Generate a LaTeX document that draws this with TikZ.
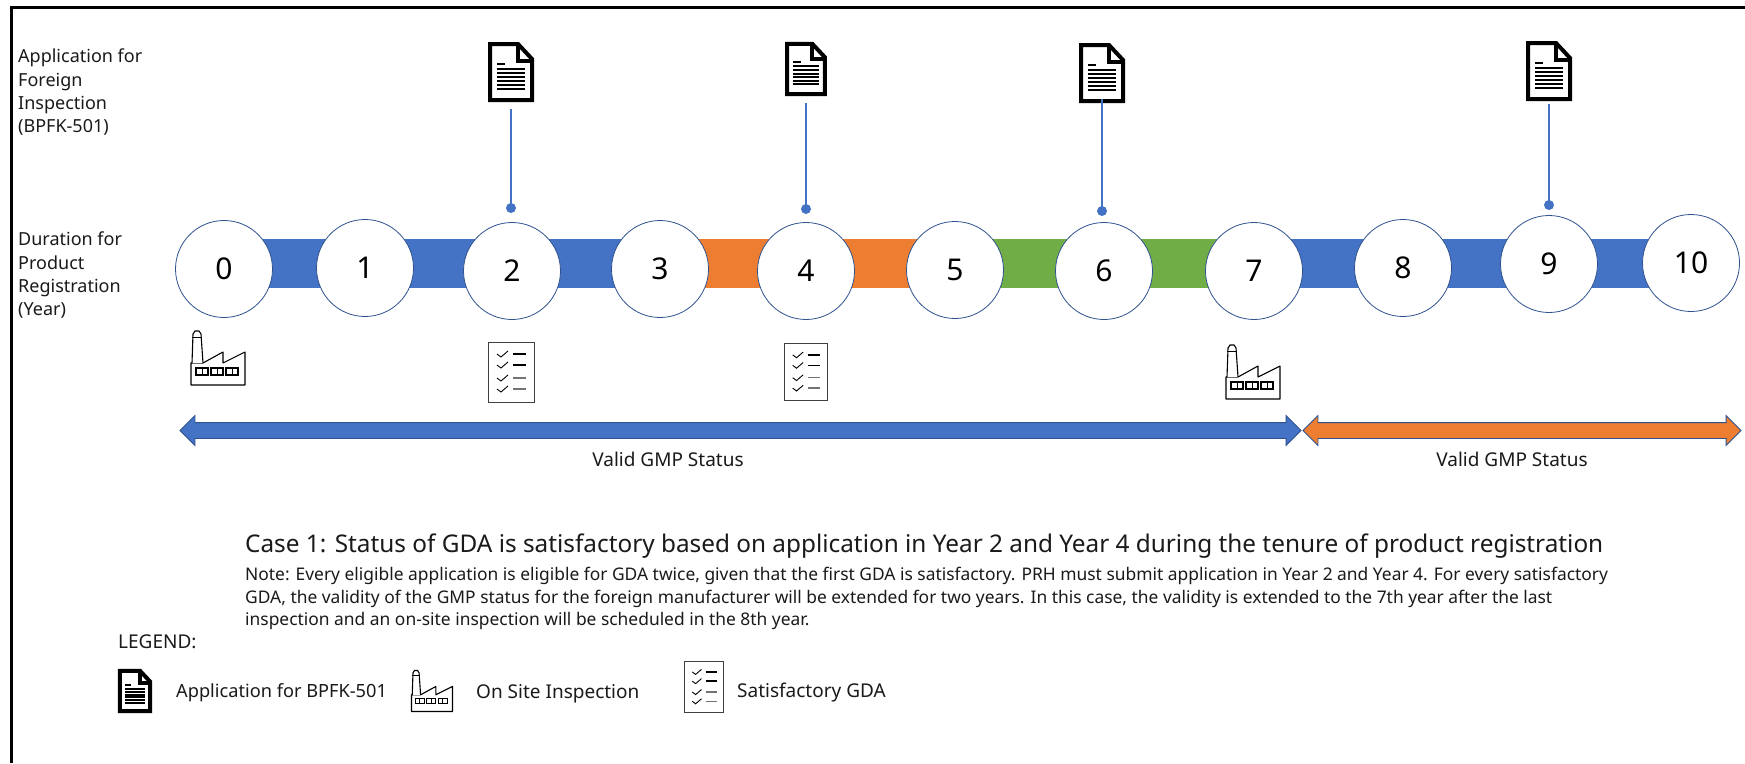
\documentclass[tikz,border=0pt]{standalone}
\usepackage{fontspec}
\setmainfont{Noto Sans}
\usetikzlibrary{shapes.arrows,backgrounds}
\definecolor{barblue}{HTML}{4472C4}
\definecolor{barorange}{HTML}{ED7D31}
\definecolor{bargreen}{HTML}{70AD47}
\definecolor{ringc}{HTML}{2F528F}
\definecolor{txt}{HTML}{1A1A1A}
\tikzset{
  x=1pt,y=-1pt,
  yearc/.style={circle,draw=ringc,line width=0.8pt,fill=white,minimum size=97pt,inner sep=0pt,font=\fontsize{30}{30}\selectfont,text=black},
  barseg/.style={line width=49pt},
  stem/.style={draw=barblue,line width=1.3pt},
  dotn/.style={circle,fill=barblue,minimum size=10pt,inner sep=0pt},
  iconbox/.style={inner sep=0pt,minimum width=46pt,minimum height=60pt},
  lbl/.style={inner sep=0pt,anchor=north west,align=left,text=txt,font=\fontsize{18}{23.3}\selectfont},
  small/.style={inner sep=0pt,text=txt,font=\fontsize{19}{22}\selectfont},
  dblarrow/.style={double arrow,draw=ringc,line width=0.8pt,minimum height=#1,minimum width=29pt,double arrow head extend=7pt,inner xsep=0pt,inner ysep=7.5pt,anchor=center},
  pics/docicon/.style={code={
    \draw[line width=4pt,fill=white,line join=miter] (-21,-28)--(7,-28)--(21,-13)--(21,28)--(-21,28)--cycle;
    \draw[line width=4pt] (7,-28)--(7,-11)--(21,-11);
    \draw[line width=1.6pt] (-14,-8)--(-6,-8);
    \foreach \yy in {-3,1,5,9,13,17}{\draw[line width=2pt] (-14,\yy)--(14,\yy);}
  }},
  pics/factoryicon/.style={code={
    \draw[line width=1.1pt,line join=round,fill=white] (-27,5)--(-27,27)--(27,27)--(27,-6)--(5,5)--(5,-6)--(-15,5)--cycle;
    \draw[line width=1.1pt,fill=white] (-26,5)--(-25,-24)--(-23,-27)--(-19,-27)--(-17,-24)--(-15,5);
    \draw[line width=0.7pt] (-26,-21)--(-16,-21);
    \foreach \xx in {-22,-7,8}{
      \draw[line width=1.1pt] (\xx,10) rectangle ++(12,7);
      \draw[line width=0.8pt] (\xx+6,10)--(\xx+6,17);}
  }},
  pics/checkicon/.style={code={
    \draw[line width=1pt,draw=black!75,fill=white] (-23,-30) rectangle (23,30);
    \foreach \yy/\cc in {-18/black,-7/black,6/black!55,17/black!55}{
      \draw[line width=0.9pt] (-14,\yy)--(-10,\yy+3)--(-3,\yy-3);
      \draw[line width=1.4pt,draw=\cc] (2,\yy)--(15,\yy);}
  }}
}
\begin{document}
\begin{tikzpicture}
\useasboundingbox (0,0) rectangle (1745,763);
\draw[line width=3pt,line cap=butt] (11,763)--(11,7)--(1745,7);
\coordinate (barmid) at (0,263.5);
% year circles
\path (224,269) node[yearc] (c0) {0}
      (365,268) node[yearc] (c1) {1}
      (512,271) node[yearc] (c2) {2}
      (660,269) node[yearc] (c3) {3}
      (806,271) node[yearc] (c4) {4}
      (955,270) node[yearc] (c5) {5}
      (1104,271) node[yearc] (c6) {6}
      (1254,271) node[yearc] (c7) {7}
      (1403,268) node[yearc] (c8) {8}
      (1549,264) node[yearc] (c9) {9}
      (1691,263) node[yearc] (c10) {10};
% bars behind the circles
\begin{scope}[on background layer]
\fill[white] (0,0) rectangle (1745,763);
\draw[barseg,barblue] (c0.center |- barmid)--(c3.center |- barmid);
\draw[barseg,barorange] (c3.center |- barmid)--(c5.center |- barmid);
\draw[barseg,bargreen] (c5.center |- barmid)--(c7.center |- barmid);
\draw[barseg,barblue] (c7.center |- barmid)--(c10.center |- barmid);
\end{scope}
% application icons
\node[iconbox] (d1) at (511,72) {}; \pic at (d1) {docicon};
\node[iconbox,minimum height=54pt] (d2) at (806,69) {}; \pic[scale=0.9] at (d2) {docicon};
\node[iconbox,minimum height=52pt] (d3) at (1102,73) {}; \pic at (d3) {docicon};
\node[iconbox,minimum height=52pt] (d4) at (1549,71) {}; \pic at (d4) {docicon};
\node[dotn] (p1) at (511,208) {};
\node[dotn] (p2) at (806,209) {};
\node[dotn] (p3) at (1102,211) {};
\node[dotn] (p4) at (1549,205) {};
\draw[stem,shorten <=7pt] (d1.south)--(p1.center);
\draw[stem,shorten <=7pt] (d2.south)--(p2.center);
\draw[stem] (d3.south)--(p3.center);
\draw[stem,shorten <=7pt] (d4.south)--(p4.center);
% inspection / GDA icons
\pic at (218,358) {factoryicon};
\pic at (1253,372) {factoryicon};
\pic at (511,372) {checkicon};
\pic[scale=0.95] at (806,372) {checkicon};
% validity arrows
\node[dblarrow=1121pt,fill=barblue] (a1) at (740.5,430.5) {};
\node[dblarrow=438pt,fill=barorange] (a2) at (1522,430.5) {};
\node[small] (v1) at (668,459) {Valid GMP Status};
\node[small] (v2) at (1512,459) {Valid GMP Status};
% left labels
\node[lbl] (l1) at (18,49) {Application for\\Foreign\\Inspection\\(BPFK-501)};
\node[lbl] (l2) at (18,232) {Duration for\\Product\\Registration\\(Year)};
% case text
\node[inner sep=0pt,anchor=west,text=txt,font=\fontsize{24.34}{28}\selectfont] (case) at (245,546) {Case 1: Status of GDA is satisfactory based on application in Year 2 and Year 4 during the tenure of product registration};
\node[inner sep=0pt,anchor=north west,align=left,text=txt,font=\fontsize{17.4}{22.5}\selectfont] (note) at (245,567) {Note: Every eligible application is eligible for GDA twice, given that the first GDA is satisfactory. PRH must submit application in Year 2 and Year 4. For every satisfactory\\GDA, the validity of the GMP status for the foreign manufacturer will be extended for two years. In this case, the validity is extended to the 7th year after the last\\inspection and an on-site inspection will be scheduled in the 8th year.};
% legend
\node[small,anchor=west] (lg) at (118,642) {LEGEND:};
\pic[scale=0.72] at (135,691) {docicon};
\node[small,anchor=west,font=\fontsize{18.2}{22}\selectfont] (t1) at (176,693) {Application for BPFK-501};
\pic[scale=0.76] at (432,691) {factoryicon};
\node[small,anchor=west] (t2) at (476,694) {On Site Inspection};
\pic[scale=0.84] at (704,687) {checkicon};
\node[small,anchor=west] (t3) at (737,693) {Satisfactory GDA};
\end{tikzpicture}
\end{document}
